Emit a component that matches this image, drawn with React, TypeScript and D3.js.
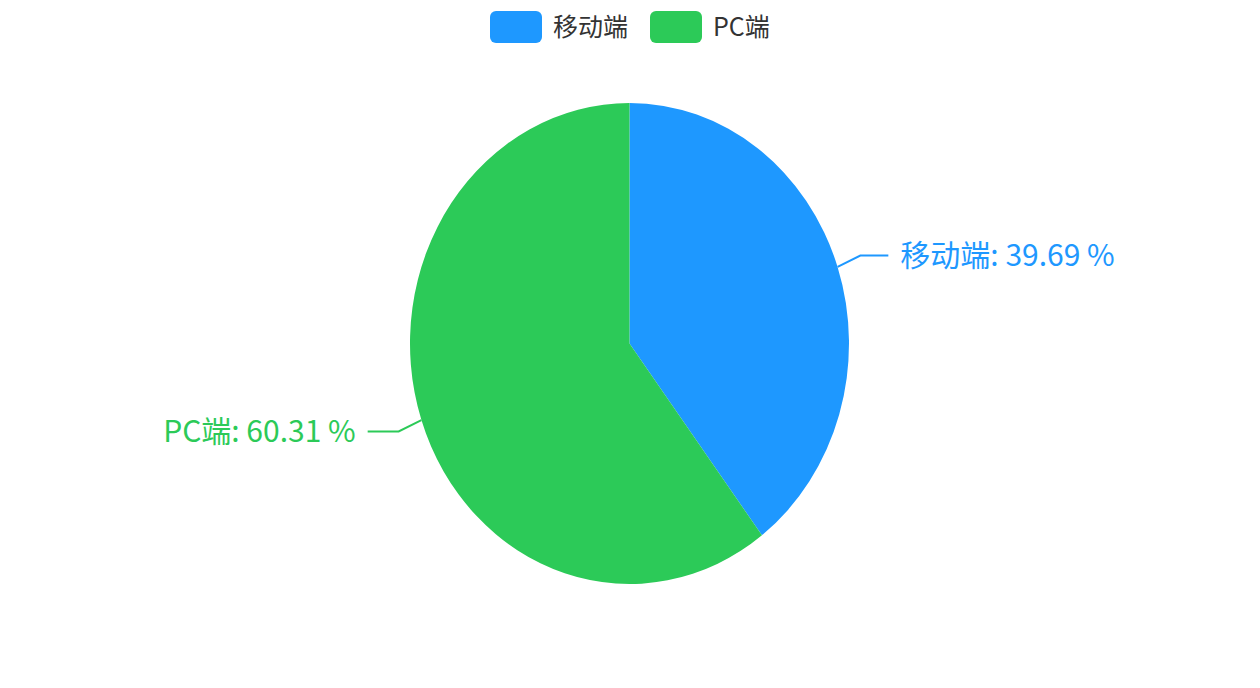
import { useEffect } from 'react';
import * as d3 from 'd3';

const categories = ['移动端', 'PC端'];
const shares = [39.69, 60.31];
const colors = ['#1e98ff', '#2cca58'];

const W = 1260;
const H = 688;
const cx = 629.5;
const cy = 343.5;
const rx = 219.5;
const ry = 240.5;
const font = '"Noto Sans CJK SC", "Noto Sans", sans-serif';

export default function App() {
  useEffect(() => {
    document.body.style.margin = '0';
  }, []);

  const pie = d3.pie<number>().sort(null).value(d => d)(shares);
  const arc = d3.arc<d3.PieArcDatum<number>>().innerRadius(0).outerRadius(ry);

  // point on the (elliptical) pie edge for an angle, with extra radius
  const edge = (a: number, ex: number, ey: number) => [
    cx + (rx + ex) * Math.sin(a),
    cy - (ry + ey) * Math.cos(a),
  ];

  // legend layout
  const legendX = [490, 650];

  return (
    <svg width={W} height={H} style={{ display: 'block', background: '#fff' }}>
      <g transform={`translate(${cx},${cy}) scale(${rx / ry},1)`}>
        {pie.map((d, i) => (
          <path key={i} d={arc(d) || ''} fill={colors[i]} />
        ))}
      </g>

      {pie.map((d, i) => {
        const mid = (d.startAngle + d.endAngle) / 2;
        const p0 = edge(mid, 0, 0);
        const p1 = edge(mid, 24, 36);
        const right = Math.sin(mid) > 0;
        const p2 = [p1[0] + (right ? 28 : -31), p1[1]];
        const tx = p2[0] + (right ? 12 : -12);
        return (
          <g key={i}>
            <polyline
              points={[p0, p1, p2].map(p => p.join(',')).join(' ')}
              fill="none"
              stroke={colors[i]}
              strokeWidth={2}
            />
            <text
              x={tx}
              y={p2[1]}
              dy="0.35em"
              textAnchor={right ? 'start' : 'end'}
              fill={colors[i]}
              fontSize={30}
              fontFamily={font}
            >
              {`${categories[i]}: ${d3.format('.2f')(shares[i])} %`}
            </text>
          </g>
        );
      })}

      {categories.map((c, i) => (
        <g key={c} transform={`translate(${legendX[i]},11)`}>
          <rect width={52} height={32} rx={6} fill={colors[i]} />
          <text x={63} y={16} dy="0.35em" fontSize={25} fill="#333" fontFamily={font}>
            {c}
          </text>
        </g>
      ))}
    </svg>
  );
}
